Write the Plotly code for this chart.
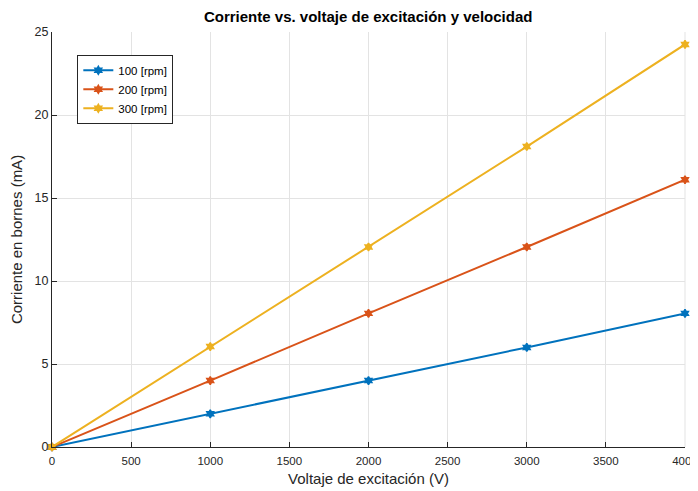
import plotly.graph_objects as go

voltaje = [0, 1000, 2000, 3000, 4000]
rpm100 = [0, 2.0, 4.0, 6.0, 8.05]
rpm200 = [0, 4.0, 8.05, 12.05, 16.1]
rpm300 = [0, 6.05, 12.05, 18.1, 24.25]
names = ["100 [rpm]", "200 [rpm]", "300 [rpm]"]
colors = ["#0072BD", "#D95319", "#EDB120"]
x_ticks = [0, 500, 1000, 1500, 2000, 2500, 3000, 3500, 4000]
y_ticks = [0, 5, 10, 15, 20, 25]

fig = go.Figure()
for ys, n, c in zip([rpm100, rpm200, rpm300], names, colors):
    fig.add_trace(go.Scatter(x=voltaje, y=ys, name=n, mode="lines+markers",
                             line=dict(color=c, width=2),
                             marker=dict(symbol="hexagram", size=6, color=c,
                                         line=dict(color=c, width=1.5)),
                             cliponaxis=False))

# light box edge on the right, as in the reference
fig.add_shape(type="line", xref="x domain", yref="y domain", x0=1, x1=1, y0=0, y1=1,
              line=dict(color="#e3e3e3", width=1), layer="below")

font = "Liberation Sans, Arial, sans-serif"
fig.update_layout(
    width=690, height=483,
    margin=dict(l=44, r=13, t=24, b=44, autoexpand=False),
    paper_bgcolor="white", plot_bgcolor="white",
    font=dict(family=font, color="#262626", size=12),
    title=dict(text="<b>Corriente vs. voltaje de excitación y velocidad</b>",
               x=0.522, xanchor="center", y=0.981, yanchor="middle",
               font=dict(size=15, color="black"), automargin=False),
    xaxis=dict(range=[0, 4000], tickvals=x_ticks, showgrid=True, gridcolor="#e3e3e3",
               showline=True, linecolor="#262626", linewidth=1, ticks="inside",
               ticklen=5, tickcolor="#262626", zeroline=False, automargin=False,
               ticklabeloverflow="allow", ticklabelstandoff=3,
               title=dict(text="Voltaje de excitación (V)", font=dict(size=15), standoff=7),
               tickfont=dict(size=11.5)),
    yaxis=dict(range=[0, 25], tickvals=y_ticks, showgrid=True, gridcolor="#e3e3e3",
               showline=True, linecolor="#262626", linewidth=1, ticks="inside",
               ticklen=5, tickcolor="#262626", zeroline=False, automargin=False,
               ticklabeloverflow="allow",
               title=dict(text="Corriente en bornes (mA)", font=dict(size=15), standoff=8),
               tickfont=dict(size=12.5)),
    legend=dict(x=0.04, y=0.945, xanchor="left", yanchor="top",
                bgcolor="white", bordercolor="#262626", borderwidth=1,
                font=dict(size=11.5, color="black"), tracegroupgap=0,
                itemwidth=30),
    showlegend=True,
)
fig.write_html("out.html",
               post_script="document.documentElement.style.overflow='hidden';"
                           "document.body.style.overflow='hidden';")
